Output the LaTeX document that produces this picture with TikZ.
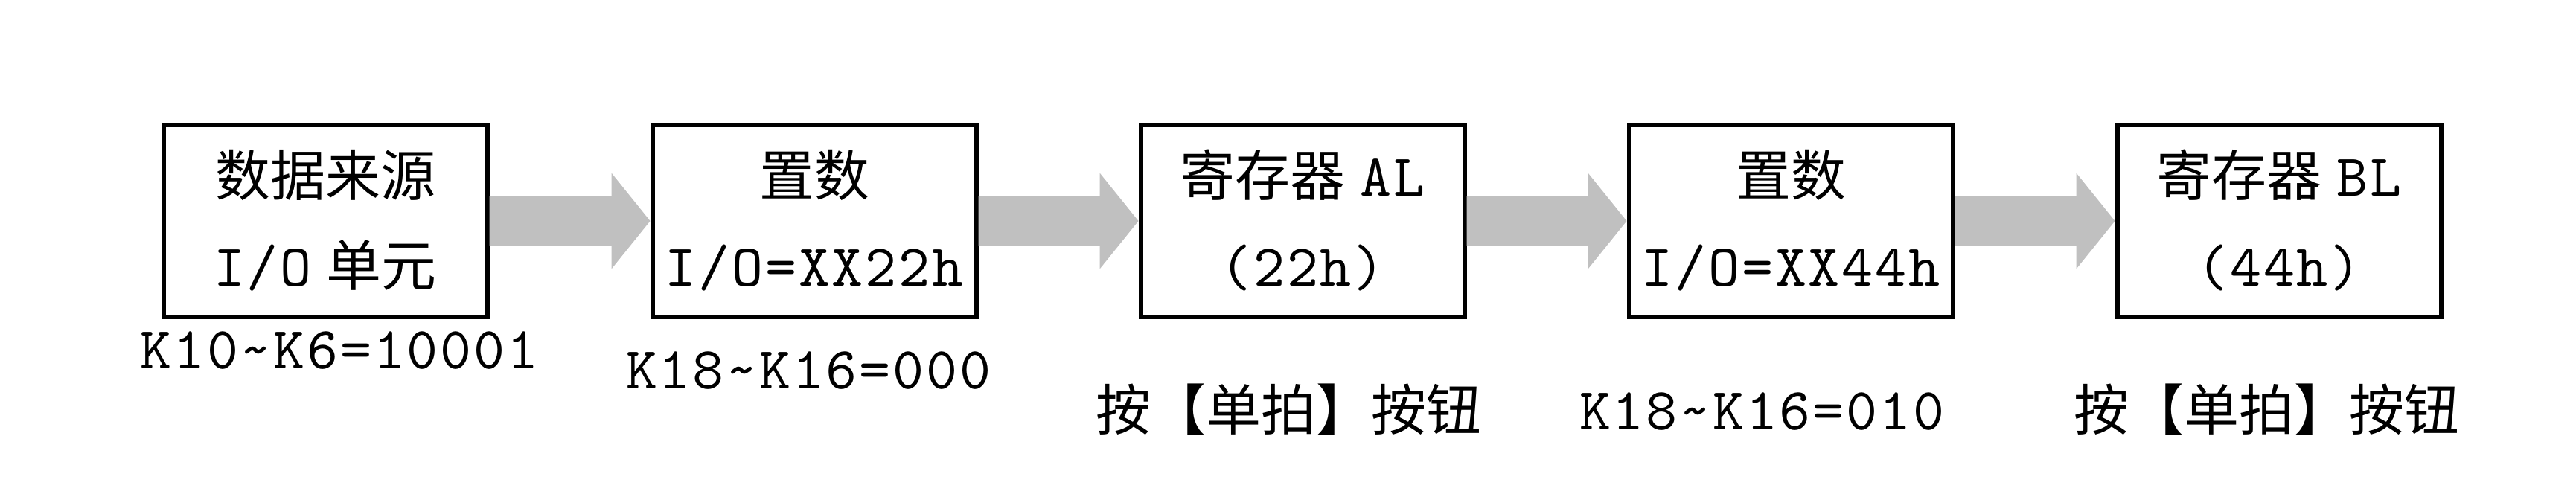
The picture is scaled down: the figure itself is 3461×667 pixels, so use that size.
\documentclass[tikz,border=0pt]{standalone}
\usepackage{fontspec}
\newfontfamily\cjkf{Noto Sans CJK SC}
\newfontfamily\monof[LetterSpace=3.5]{lmmono10-regular.otf}
\usetikzlibrary{calc}
\definecolor{arrowgray}{RGB}{192,192,192}
\newcommand{\ct}{\cjkf\fontsize{18.5}{22}\selectfont}
\newcommand{\mt}{\monof\fontsize{20}{24}\selectfont}
\newcommand{\ml}{\monof\fontsize{20}{24}\selectfont}
\begin{document}
\begin{tikzpicture}[x=0.25pt,y=-0.25pt,
  blk/.style={draw=black, line width=1.5pt, minimum width=108.75pt, minimum height=64.5pt, inner sep=0pt},
  txt/.style={anchor=base, inner sep=0pt, outer sep=0pt},
  flow/.style={fill=arrowgray, draw=none}]
\fill[white] (0,0) rectangle (3461,667);
\useasboundingbox (0,0) rectangle (3461,667);
% blocks
\node[blk] (b1) at (437,297) {};
\node[blk] (b2) at (1094,297) {};
\node[blk] (b3) at (1750,297) {};
\node[blk] (b4) at (2406,297) {};
\node[blk] (b5) at (3062,297) {};
% block texts
\node[txt] (t1a) at (437,263) {\ct 数据来源};
\node[txt] (t1b) at (437,384) {\mt I/O\hspace{5pt}\ct 单元};
\node[txt] (t2a) at (1094,263) {\ct 置数};
\node[txt] (t2b) at (1094,384) {\mt I/O=XX22h};
\node[txt] (t3a) at (1750,263) {\ct 寄存器\hspace{5pt}\mt AL};
\node[txt] (t3b) at (1750,384) {\mt (22h)};
\node[txt] (t4a) at (2406,263) {\ct 置数};
\node[txt] (t4b) at (2406,384) {\mt I/O=XX44h};
\node[txt] (t5a) at (3062,263) {\ct 寄存器\hspace{5pt}\mt BL};
\node[txt] (t5b) at (3062,384) {\mt (44h)};
% labels below
\node[txt] (l1) at (456,495) {\ml K10\textasciitilde K6=10001};
\node[txt] (l2) at (1086,522) {\ml K18\textasciitilde K16=000};
\node[txt] (l3) at (1731,578) {\ct 按【单拍】按钮};
\node[txt] (l4) at (2367,577) {\ml K18\textasciitilde K16=010};
\node[txt] (l5) at (3045,578) {\ct 按【单拍】按钮};
% block arrows
\foreach \a/\b in {b1/b2,b2/b3,b3/b4,b4/b5}{
  \fill[flow] ($(\a.east)+(0,-33)$) -- ($(\b.west)+(-52,-33)$) -- ($(\b.west)+(-52,-64.5)$)
    -- (\b.west) -- ($(\b.west)+(-52,64.5)$) -- ($(\b.west)+(-52,33)$) -- ($(\a.east)+(0,33)$) -- cycle;
}
\end{tikzpicture}
\end{document}
